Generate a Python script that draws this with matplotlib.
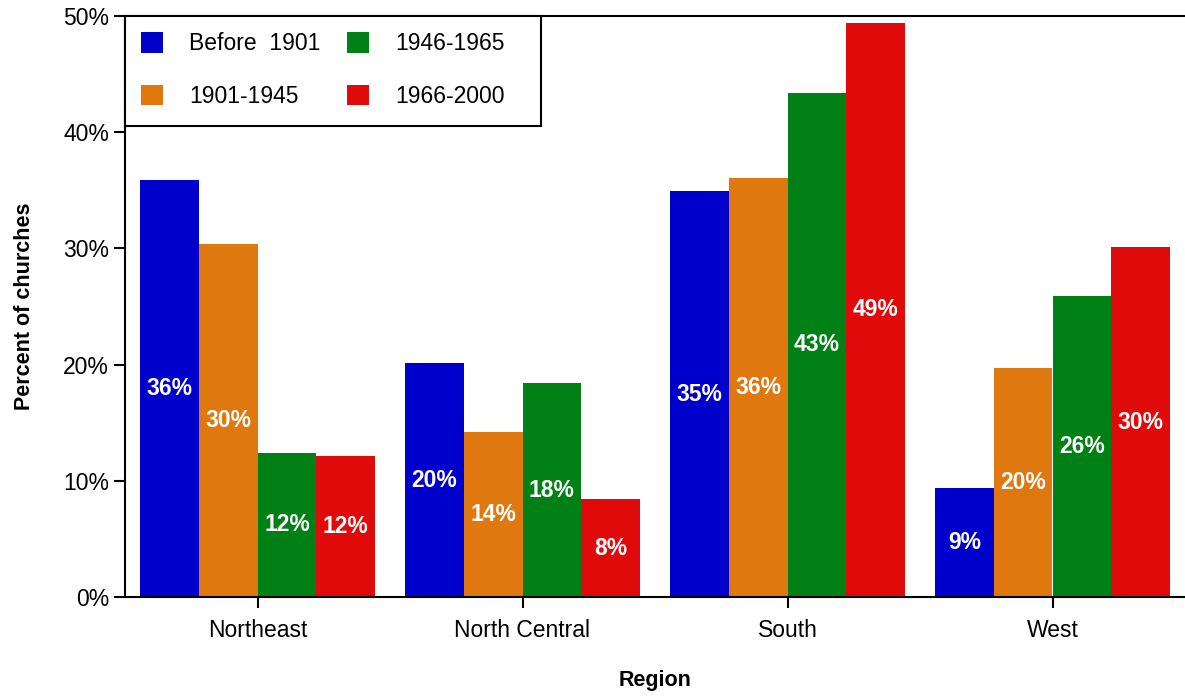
import matplotlib.pyplot as plt
from matplotlib.patches import Rectangle
import numpy as np

plt.rcParams['font.family'] = ['Liberation Sans', 'DejaVu Sans']

regions = ["Northeast", "North Central", "South", "West"]
periods = ["Before  1901", "1901-1945", "1946-1965", "1966-2000"]
before_1901 = [35.9, 20.1, 34.9, 9.4]
y1901_1945 = [30.4, 14.2, 36.1, 19.7]
y1946_1965 = [12.4, 18.4, 43.4, 25.9]
y1966_2000 = [12.1, 8.4, 49.4, 30.1]
series = [before_1901, y1901_1945, y1946_1965, y1966_2000]
colors = ["#0000CC", "#E07810", "#008015", "#E00A0A"]

fig = plt.figure(figsize=(11.85, 6.96), dpi=100)
ax = fig.add_axes([125 / 1185, 1 - 597 / 696, 1 - 125 / 1185, (597 - 16) / 696])

x = np.arange(len(regions))
w = 0.222
for i, (vals, c, lab) in enumerate(zip(series, colors, periods)):
    pos = x + (i - 1.5) * w
    ax.bar(pos, vals, width=w, color=c, label=lab)
    for px, v in zip(pos, vals):
        ax.text(px, v / 2, f"{round(v)}%", ha='center', va='center',
                color='white', fontsize=16.5, fontweight='bold')

ax.set_xlim(-0.5, 3.5)
ax.set_ylim(0, 50)
ax.set_yticks(range(0, 51, 10))
ax.set_yticklabels([f"{t}%" for t in range(0, 51, 10)])
ax.set_xticks(x)
ax.set_xticklabels(regions)
ax.tick_params(axis='both', labelsize=16.5, length=8, width=1.5, direction='out')
ax.tick_params(axis='x', pad=8)
ax.spines['right'].set_visible(False)
for s in ['left', 'bottom', 'top']:
    ax.spines[s].set_linewidth(1.5)

ax.set_ylabel("Percent of churches", fontsize=15.5, fontweight='bold', labelpad=20)
ax.set_xlabel("Region", fontsize=15.5, fontweight='bold', labelpad=20)

# legend frame drawn by hand so the right padding matches
ax.add_patch(Rectangle((0, 1 - 110 / 581), 416 / 1060, 110 / 581, transform=ax.transAxes,
                       fill=True, facecolor='white', edgecolor='black', linewidth=1.5,
                       zorder=4, clip_on=False))
leg = ax.legend(ncol=2, loc='upper left', fontsize=16.5, frameon=False,
                borderaxespad=0, handlelength=0.95, handleheight=1.0, handletextpad=1.15,
                columnspacing=1.15, labelspacing=1.3, borderpad=0.7)
leg.set_zorder(5)

plt.savefig("out.png", dpi=100)
